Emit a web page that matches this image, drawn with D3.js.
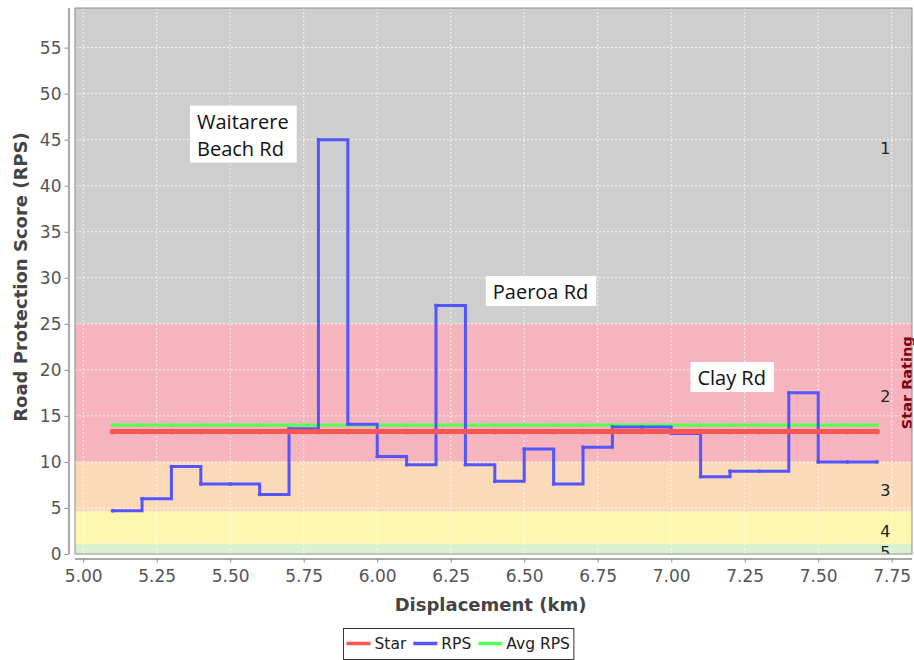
<!DOCTYPE html>
<html>
<head>
<meta charset="utf-8">
<script src="https://cdn.jsdelivr.net/npm/d3@7"></script>
<style>
  body { margin: 0; background: #fff; }
  svg { display: block; font-family: "DejaVu Sans", sans-serif; }
</style>
</head>
<body>
<div id="chart"></div>
<script>
// chart values
const displacement = [5.1, 5.2, 5.3, 5.4, 5.5, 5.6, 5.7, 5.8, 5.9, 6.0, 6.1, 6.2, 6.3, 6.4,
    6.5, 6.6, 6.7, 6.8, 6.9, 7.0, 7.1, 7.2, 7.3, 7.4, 7.5, 7.6, 7.7];
const rps = [4.7, 6.0, 9.5, 7.6, 7.6, 6.45, 13.6, 45.0, 14.1, 10.6, 9.7, 27.0, 9.7, 7.9,
    11.4, 7.6, 11.6, 13.8, 13.8, 13.1, 8.4, 9.0, 9.0, 17.5, 10.0, 10.0, 10.0];
const star = [13.3, 13.3, 13.3, 13.3, 13.3, 13.3, 13.3, 13.3, 13.3, 13.3, 13.3, 13.3, 13.3, 13.3,
    13.3, 13.3, 13.3, 13.3, 13.3, 13.3, 13.3, 13.3, 13.3, 13.3, 13.3, 13.3, 13.3];
const avgRps = [14.0, 14.0, 14.0, 14.0, 14.0, 14.0, 14.0, 14.0, 14.0, 14.0, 14.0, 14.0, 14.0, 14.0,
    14.0, 14.0, 14.0, 14.0, 14.0, 14.0, 14.0, 14.0, 14.0, 14.0, 14.0, 14.0, 14.0];

// star rating bands
const starLabels = ["1", "2", "3", "4", "5"];
const bandLower = [25, 10, 4.6, 1.1, 0];
const bandUpper = [64, 25, 10, 4.6, 1.1];

const xTicks = [5.00, 5.25, 5.50, 5.75, 6.00, 6.25, 6.50, 6.75, 7.00, 7.25, 7.50, 7.75];
const yTicks = [0, 5, 10, 15, 20, 25, 30, 35, 40, 45, 50, 55];

// road name notes (left edge / first baseline, in data units)
const roadNames = [["Waitarere", "Beach Rd"], ["Paeroa Rd"], ["Clay Rd"]];
const roadKm = [5.387, 6.393, 7.089];
const roadRps = [46.2, 27.7, 18.35];

const seriesNames = ["Star", "RPS", "Avg RPS"];

const bandColors = ["#cecece", "#f6b4bf", "#fbdab9", "#fff7b0", "#d8f1cf"];
const seriesColors = ["#ff5555", "#5555ff", "#55ff55"];

const margin = { top: 8, right: 2, bottom: 106, left: 75 };
const W = 914, H = 660;
const width = W - margin.left - margin.right;
const height = H - margin.top - margin.bottom;

const root = d3.select("#chart").append("svg")
    .attr("width", W)
    .attr("height", H);

const svg = root.append("g")
    .attr("transform", `translate(${margin.left},${margin.top})`);

const x = d3.scaleLinear().domain([4.972, 7.819]).range([0, width]);
const y = d3.scaleLinear().domain([0, 59.3]).range([height, 0]);

svg.append("clipPath").attr("id", "plotClip")
    .append("rect").attr("width", width).attr("height", height);

const plot = svg.append("g").attr("clip-path", "url(#plotClip)");

//background bands
plot.selectAll("rect.band")
    .data(starLabels)
    .join("rect")
    .attr("class", "band")
    .attr("x", 0)
    .attr("width", width)
    .attr("y", (d, i) => y(bandUpper[i]))
    .attr("height", (d, i) => y(bandLower[i]) - y(bandUpper[i]))
    .attr("fill", (d, i) => bandColors[i]);

//dashed grid
plot.append("g")
    .selectAll("line")
    .data(xTicks)
    .join("line")
    .attr("x1", d => x(d)).attr("x2", d => x(d))
    .attr("y1", 0).attr("y2", height)
    .attr("stroke", "#fff").attr("stroke-opacity", 0.75)
    .attr("stroke-dasharray", "2,2");

plot.append("g")
    .selectAll("line")
    .data(yTicks)
    .join("line")
    .attr("x1", 0).attr("x2", width)
    .attr("y1", d => y(d)).attr("y2", d => y(d))
    .attr("stroke", "#fff").attr("stroke-opacity", 0.75)
    .attr("stroke-dasharray", "2,2");

//star numbers
plot.append("g")
    .selectAll("text")
    .data(starLabels)
    .join("text")
    .attr("x", x(7.728))
    .attr("y", (d, i) => y((bandLower[i] + bandUpper[i]) / 2) + 5)
    .attr("text-anchor", "middle")
    .attr("dominant-baseline", "middle")
    .style("font-size", "16px")
    .style("fill", "#222")
    .text(d => d);

//series, drawn in reverse order so Star sits on top
const seriesValues = [star, rps, avgRps];
const seriesWidths = [5, 3, 3.2];
const line = d3.line()
    .x((d, i) => x(displacement[i]))
    .y(d => y(d))
    .curve(d3.curveStepAfter);

[2, 1, 0].forEach(s => {
    const g = plot.append("g");
    g.append("path")
        .datum(seriesValues[s])
        .attr("d", line)
        .attr("fill", "none")
        .attr("stroke", seriesColors[s])
        .attr("stroke-width", seriesWidths[s]);
    g.selectAll("circle")
        .data(seriesValues[s])
        .join("circle")
        .attr("cx", (d, i) => x(displacement[i]))
        .attr("cy", d => y(d))
        .attr("r", seriesWidths[s] / 2 + 0.4)
        .attr("fill", seriesColors[s]);
});

svg.append("text")
    .attr("transform", `translate(${x(7.804)},${y(18.6)}) rotate(-90)`)
    .attr("text-anchor", "middle")
    .attr("dominant-baseline", "middle")
    .style("font-size", "14.5px")
    .style("font-weight", "bold")
    .style("fill", "#7a0010")
    .text("Star Rating");

//plot outline
svg.append("rect")
    .attr("width", width).attr("height", height)
    .attr("fill", "none")
    .attr("stroke", "#8c8c8c");

//road notes
roadNames.forEach((lines, i) => {
    const g = svg.append("g");
    const t = g.append("text")
        .attr("x", x(roadKm[i]))
        .attr("y", y(roadRps[i]))
        .style("font-family", "'Open Sans', sans-serif")
        .style("font-size", "20px")
        .style("fill", "#111");
    lines.forEach((l, j) => {
        t.append("tspan")
            .attr("x", x(roadKm[i]))
            .attr("dy", j === 0 ? 0 : 27)
            .text(l);
    });
    const b = t.node().getBBox();
    g.insert("rect", "text")
        .attr("x", b.x - 7).attr("y", b.y - 2)
        .attr("width", b.width + 15).attr("height", b.height + 3)
        .attr("fill", "#fff");
});

//y axis
const yAxis = svg.append("g")
    .attr("transform", "translate(-6.5,0)")
    .call(d3.axisLeft(y).tickValues(yTicks).tickFormat(d3.format("d")).tickSize(4).tickPadding(3));

//x axis
const xAxis = svg.append("g")
    .attr("transform", `translate(0,${height + 4.5})`)
    .call(d3.axisBottom(x).tickValues(xTicks).tickFormat(d3.format(".2f")).tickSize(4).tickPadding(7));

[yAxis, xAxis].forEach(a => {
    a.select(".domain").attr("stroke", "#8c8c8c").attr("stroke-width", 1.5);
    a.selectAll(".tick line").attr("stroke", "#8c8c8c");
    a.selectAll(".tick text")
        .style("font-family", "'DejaVu Sans', sans-serif")
        .style("font-size", "17px")
        .style("fill", "#555");
});
yAxis.select(".domain").attr("d", `M0.5,0V${height}`);
xAxis.select(".domain").attr("d", `M0,0.5H${width}`);

//axis titles
svg.append("text")
    .attr("x", width / 2 - 3)
    .attr("y", height + 57)
    .attr("text-anchor", "middle")
    .style("font-size", "18px")
    .style("font-weight", "bold")
    .style("fill", "#444")
    .text("Displacement (km)");

svg.append("text")
    .attr("transform", `translate(${-margin.left + 22},${height / 2 - 4}) rotate(-90)`)
    .attr("text-anchor", "middle")
    .attr("dominant-baseline", "middle")
    .style("font-size", "18px")
    .style("font-weight", "bold")
    .style("fill", "#444")
    .text("Road Protection Score (RPS)");

//legend
const legend = root.append("g").attr("transform", "translate(343.5,628.5)");
const legendBox = legend.append("rect")
    .attr("height", 31)
    .attr("fill", "#fff")
    .attr("stroke", "#333");

let lx = 3;
seriesNames.forEach((name, i) => {
    legend.append("line")
        .attr("x1", lx).attr("x2", lx + 24)
        .attr("y1", 15).attr("y2", 15)
        .attr("stroke", seriesColors[i])
        .attr("stroke-width", 3.5);
    const t = legend.append("text")
        .attr("x", lx + 28)
        .attr("y", 20.5)
        .style("font-size", "15.5px")
        .style("fill", "#222")
        .text(name);
    lx += 28 + t.node().getComputedTextLength() + 7;
});
legendBox.attr("width", lx - 3);
</script>
</body>
</html>
